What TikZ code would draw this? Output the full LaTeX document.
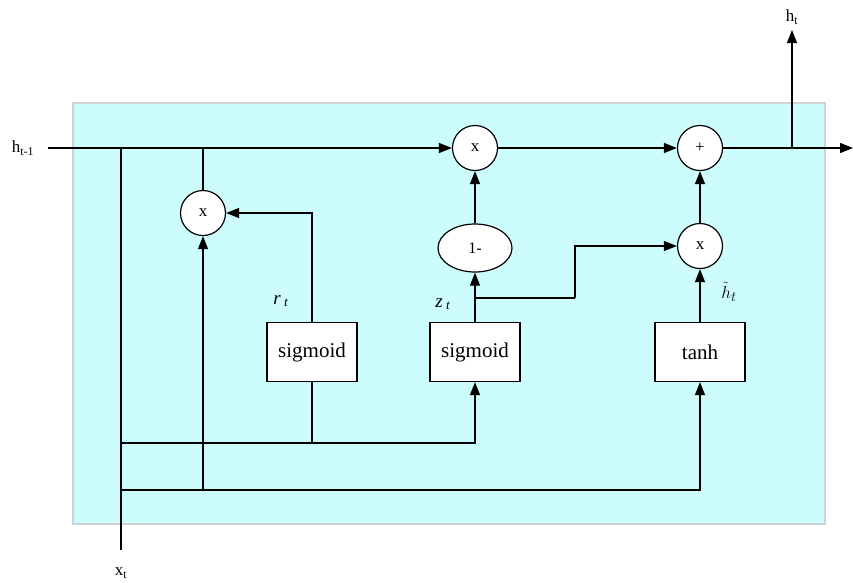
\documentclass[tikz,border=0pt]{standalone}
\usepackage{fontspec}
\setmainfont{Liberation Serif}
\usetikzlibrary{arrows.meta,shapes.geometric}

\definecolor{cellbg}{RGB}{204,252,252}
\definecolor{cellrim}{RGB}{205,210,210}

\tikzset{
  op/.style={circle, draw, fill=white, line width=1.2pt, minimum size=45pt, inner sep=0pt, font=\fontsize{17}{17}\selectfont},
  gate/.style={rectangle, draw, fill=white, line width=1.2pt, minimum width=90pt, minimum height=59pt, font=\fontsize{21}{21}\selectfont},
  wire/.style={line width=1.2pt},
  flow/.style={line width=1.2pt, -{Triangle[length=13pt,width=10pt]}},
  lab/.style={font=\fontsize{17}{17}\selectfont},
  var/.style={font=\fontsize{19}{19}\selectfont},
}

\begin{document}
\begin{tikzpicture}[x=1pt, y=-1pt]
\useasboundingbox (0,0) rectangle (853,582);

% cell background
\filldraw [fill=cellbg, draw=cellrim, line width=1.2pt] (73,103) rectangle (825,524);

% operations
\node[op] (mulr) at (203,213) {x};
\node[op] (mulz) at (475,148) {x};
\node[op] (add) at (700,148) {+};
\node[op] (mulh) at (700,246) {x};
\node[ellipse, draw, fill=white, line width=1.2pt, minimum width=74pt, minimum height=48pt, inner sep=0pt, font=\fontsize{16}{16}\selectfont] (inv) at (475,248) {1-};

% gates
\node[gate] (sigr) at (312,352) {sigmoid};
\node[gate] (sigz) at (475,352) {sigmoid};
\node[gate] (tanh) at (700,352) {tanh};

% texts
\node[lab] (hprev) at (23,148) {h\textsubscript{t-1}};
\node[lab] (hnext) at (792,17) {h\textsubscript{t}};
\node[lab] (xcur) at (121,573) {x\textsubscript{t}};
\node[var] (rlab) at (281,301) {\textit{r}\,\textsubscript{\textit{t}}};
\node[var] (zlab) at (443,304) {\textit{z}\,\textsubscript{\textit{t}}};
\node[var] (hlab) at (729,292) {$\tilde{h}_t$};

% ends and junctions
\coordinate (hin) at (48,148);
\coordinate (xin) at (121,550);
\coordinate (out) at (853,148);
\coordinate (hout) at (792,30);
\coordinate (jx) at (121,148);
\coordinate (jr) at (203,148);
\coordinate (jo) at (792,148);
\coordinate (jb1) at (121,443);
\coordinate (jb2) at (121,490);
\coordinate (jz) at (475,298);
\coordinate (zturn) at (575,298);

\begin{scope}[wire]
\draw (xin) -- (jx);
\draw (jr) -- (mulr);
\draw (sigr.south) -- (sigr.south |- jb1);
\draw (jz) -- (zturn);
\end{scope}

\begin{scope}[flow]
\draw (hin) -- (mulz);
\draw (mulz) -- (add);
\draw (add) -- (out);
\draw (jo) -- (hout);
\draw (sigr.north) |- (mulr);
\draw (jb1) -| (sigz.south);
\draw (jb2) -| (tanh.south);
\draw (jb2 -| mulr) -- (mulr);
\draw (sigz) -- (inv);
\draw (inv) -- (mulz);
\draw (tanh) -- (mulh);
\draw (mulh) -- (add);
\draw (zturn) |- (mulh);
\end{scope}

\end{tikzpicture}
\end{document}
